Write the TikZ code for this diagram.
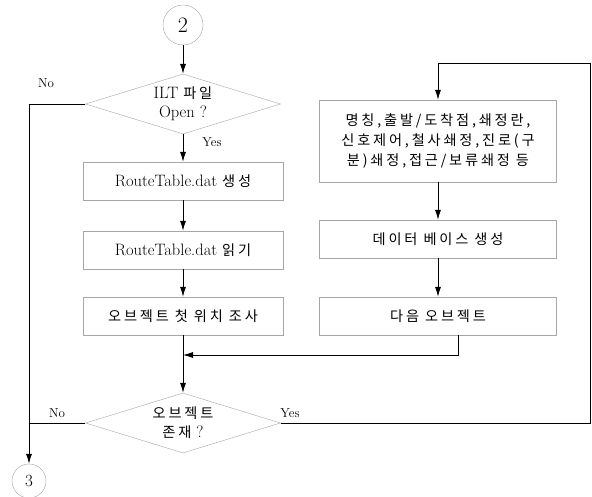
\documentclass[tikz,border=0pt]{standalone}
\usepackage{fontspec}
\newfontfamily\kr[Scale=0.86,LetterSpace=20]{Noto Sans CJK KR}
\usetikzlibrary{shapes.geometric,arrows.meta}

\begin{document}
\begin{tikzpicture}[x=1pt,y=-1pt,line width=0.8pt,
  font=\fontsize{16.5}{19}\selectfont,
  box/.style={draw=black!35,thin,minimum width=200,minimum height=38,inner sep=0},
  cond/.style={draw=black!35,thin,diamond,aspect=3.25,minimum width=195,minimum height=60,inner sep=0,align=center},
  conn/.style={draw=black!35,thin,circle,minimum size=40,inner sep=0,font=\fontsize{22}{22}\selectfont},
  lbl/.style={font=\fontsize{13}{13}\selectfont},
  arr/.style={-{Latex[length=10pt,width=6pt]}}]
\useasboundingbox (0,0) rectangle (592,497);

% left column
\node[conn] (c2) at (183,25) {2};
\node[cond] (d1) at (183,104) {ILT {\kr 파일}\\Open ?};
\node[box] (b1) at (183,181) {RouteTable.dat {\kr 생성}};
\node[box] (b2) at (183,250) {RouteTable.dat {\kr 읽기}};
\node[box] (b3) at (183,316) {\kr 오브젝트 첫 위치 조사};
\node[cond] (d2) at (183,423) {{\kr 오브젝트}\\{\kr 존재} ?};
\node[conn,minimum size=34,font=\fontsize{17}{17}\selectfont] (c3) at (29,481) {3};

% right column
\node[box,minimum width=237,minimum height=82,align=center,font=\fontsize{16.5}{20}\selectfont] (r1) at (438,141)
  {\kr 명칭,출발/도착점,쇄정란,\\\kr 신호제어,철사쇄정,진로(구\\\kr 분)쇄정,접근/보류쇄정 등};
\node[box,minimum width=237] (r2) at (438,239) {\kr 데이터 베이스 생성};
\node[box,minimum width=237] (r3) at (438,316) {\kr 다음 오브젝트};

% labels
\node[lbl] (no1) at (46,83) {No};
\node[lbl] (yes1) at (212,142) {Yes};
\node[lbl] (no2) at (57,413) {No};
\node[lbl] (yes2) at (290,413) {Yes};

\coordinate (j) at (183,355);
\coordinate (loop) at (590,63);

\draw[arr] (c2) -- (d1);
\draw[arr] (d1) -- (b1);
\draw[arr] (b1) -- (b2);
\draw[arr] (b2) -- (b3);
\draw[arr] (b3) -- (d2);
\draw[arr] (d1.west) -| (c3);
\draw (d2.west) -- (d2.west -| c3);
\draw[arr] (d2.east) -| (loop) -| (r1);
\draw[arr] (r1) -- (r2);
\draw[arr] (r2) -- (r3);
\draw[arr] ([xshift=20pt]r3.south) |- (j);
\end{tikzpicture}
\end{document}
